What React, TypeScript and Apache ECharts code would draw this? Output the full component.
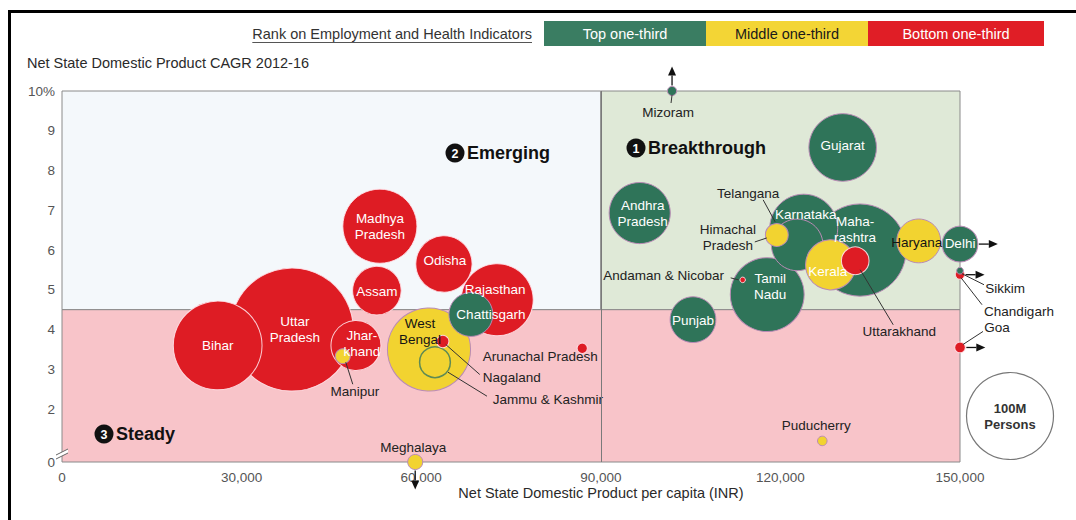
import React, { useEffect, useRef } from "react";
import * as echarts from "echarts";

// ---------------- DATA ----------------
const states = [
  "Uttar Pradesh", "Maharashtra", "Bihar", "West Bengal", "Madhya Pradesh", "Tamil Nadu",
  "Rajasthan", "Karnataka", "Gujarat", "Andhra Pradesh", "Odisha", "Telangana", "Kerala",
  "Jharkhand", "Assam", "Punjab", "Chattisgarh", "Haryana", "Delhi", "Jammu & Kashmir",
  "Uttarakhand", "Himachal Pradesh", "Meghalaya", "Manipur", "Nagaland", "Goa",
  "Arunachal Pradesh", "Puducherry", "Mizoram", "Chandigarh", "Sikkim", "Andaman & Nicobar",
];
// Net State Domestic Product per capita (INR)
const nsdpPerCapita = [
  38400, 133300, 26000, 61300, 53100, 117800,
  72700, 123900, 130400, 96500, 63800, 122800, 128400,
  49100, 52600, 105400, 68300, 143100, 150000, 62300,
  132500, 119400, 59000, 46900, 63600, 150000,
  86900, 127000, 101900, 150000, 150000, 113700,
];
// NSDP CAGR 2012-16 (%)
const cagr = [
  4.0, 6.0, 3.6, 3.5, 6.6, 4.88,
  4.75, 6.55, 8.58, 6.93, 5.65, 6.13, 5.63,
  3.6, 4.98, 4.25, 4.38, 6.23, 6.15, 3.18,
  5.73, 6.38, 0, 3.33, 3.7, 3.55,
  3.53, 1.2, 10, 5.38, 5.48, 5.25,
];
// Population (millions)
const populationM = [
  199.8, 112.4, 104.1, 91.3, 72.6, 72.1,
  68.5, 61.1, 60.4, 49.4, 41.9, 35.2, 33.4,
  33.0, 31.2, 27.7, 25.5, 25.4, 16.8, 12.5,
  10.1, 6.9, 3.0, 2.9, 2.0, 1.5,
  1.4, 1.2, 1.1, 1.1, 0.6, 0.4,
];
// Rank on Employment and Health Indicators
const rankGroup = [
  "Bottom", "Top", "Bottom", "Middle", "Bottom", "Top",
  "Bottom", "Top", "Top", "Top", "Bottom", "Top", "Middle",
  "Bottom", "Bottom", "Top", "Top", "Middle", "Top", "Middle",
  "Bottom", "Middle", "Middle", "Middle", "Bottom", "Bottom",
  "Bottom", "Middle", "Top", "Bottom", "Top", "Bottom",
];
// Value beyond the axis range (arrow direction)
const offScale = [
  "", "", "", "", "", "",
  "", "", "", "", "", "", "",
  "", "", "", "", "", "right", "",
  "", "", "down", "", "", "right",
  "", "", "up", "right", "", "",
];

const rankGroups = ["Top", "Middle", "Bottom"];
const rankLegendLabels = ["Top one-third", "Middle one-third", "Bottom one-third"];
const xTickValues = [0, 30000, 60000, 90000, 120000, 150000];
const yTickValues = [0, 2, 3, 4, 5, 6, 7, 8, 9, 10];
const yTickLabels = ["0", "2", "3", "4", "5", "6", "7", "8", "9", "10%"];
const xSplit = 90000;
const ySplit = 4.5;
const refPopulationM = 100;

// ---------------- STYLE ----------------
const FONT = '"Liberation Sans", Arial, Helvetica, sans-serif';
const Y_MIN = 0.67;
const R100 = 43.5; // radius (px) of a 100M bubble
const groupColor: Record<string, string> = { Top: "#2f7459", Middle: "#f2d330", Bottom: "#de1c24" };
const legendColor: Record<string, string> = { Top: "#3a7d62", Middle: "#f3d535", Bottom: "#e01e26" };
const legendText: Record<string, string> = { Top: "#ffffff", Middle: "#1a1a1a", Bottom: "#ffffff" };

type LC = { dx: number; dy: number; out?: boolean; dark?: boolean; light?: boolean; line?: number[] };
const labelCfg: Record<string, LC> = {
  "Uttar Pradesh": { dx: 3, dy: 0 },
  Maharashtra: { dx: -5, dy: -21 },
  Bihar: { dx: 0, dy: 0 },
  "West Bengal": { dx: -9, dy: -18, dark: true },
  "Madhya Pradesh": { dx: 0, dy: 0 },
  "Tamil Nadu": { dx: 3, dy: -8 },
  Rajasthan: { dx: -2, dy: -10 },
  Karnataka: { dx: 2, dy: -14 },
  Gujarat: { dx: 0, dy: -2 },
  "Andhra Pradesh": { dx: 3, dy: 0 },
  Odisha: { dx: 1, dy: -3 },
  Telangana: { dx: -49, dy: -51, out: true, line: [-34, -45, -22, -23] },
  Kerala: { dx: -3, dy: 7, light: true },
  Jharkhand: { dx: 6, dy: -2 },
  Assam: { dx: 0, dy: 1 },
  Punjab: { dx: 0, dy: 1 },
  Chattisgarh: { dx: 20, dy: 0 },
  Haryana: { dx: -2, dy: 2, dark: true },
  Delhi: { dx: 0, dy: -1 },
  "Jammu & Kashmir": { dx: 113, dy: 37, out: true, line: [13, 10, 52, 34] },
  Uttarakhand: { dx: 44, dy: 71, out: true, line: [5, 9, 38, 64] },
  "Himachal Pradesh": { dx: -49, dy: 3, out: true, line: [-22, 7, -10, 3] },
  Meghalaya: { dx: -2, dy: -15, out: true },
  Manipur: { dx: 12, dy: 35, out: true, line: [3, 6, 10, 28] },
  Nagaland: { dx: 69, dy: 36, out: true, line: [3, 3, 37, 33] },
  Goa: { dx: 37, dy: -20, out: true, line: [3, -3, 23, -16] },
  "Arunachal Pradesh": { dx: -42, dy: 8, out: true },
  Puducherry: { dx: -6, dy: -15, out: true },
  Mizoram: { dx: -4, dy: 21, out: true, line: [0, 4, -1, 12] },
  Chandigarh: { dx: 59, dy: 37, out: true, line: [1, 3, 22, 30] },
  Sikkim: { dx: 45, dy: 18, out: true, line: [2, 3, 24, 14] },
  "Andaman & Nicobar": { dx: -79, dy: -4, out: true, line: [-12, -2, -4, 0] },
};
const labelText: Record<string, string> = {
  "Uttar Pradesh": "Uttar\nPradesh",
  Maharashtra: "Maha-\nrashtra",
  "West Bengal": "West\nBengal",
  "Madhya Pradesh": "Madhya\nPradesh",
  "Tamil Nadu": "Tamil\nNadu",
  "Andhra Pradesh": "Andhra\nPradesh",
  Jharkhand: "Jhar-\nkhand",
  "Himachal Pradesh": "Himachal\nPradesh",
};

function textWidth(text: string, font: string) {
  const c = document.createElement("canvas").getContext("2d");
  if (!c) return text.length * 7;
  c.font = font;
  return c.measureText(text).width;
}

export default function App() {
  const ref = useRef<HTMLDivElement>(null);

  useEffect(() => {
    const el = ref.current;
    if (!el) return;
    const chart = echarts.init(el, undefined, { renderer: "svg" });
    const radius = (p: number) => R100 * Math.sqrt(p / refPopulationM);

    const items = states.map((name, i) => ({
      name,
      x: nsdpPerCapita[i],
      y: Math.max(cagr[i], Y_MIN),
      pop: populationM[i],
      group: rankGroup[i],
      off: offScale[i],
    }));

    const data = items.map((it) => {
      const cfg = labelCfg[it.name] || { dx: 0, dy: 0 };
      const color = groupColor[it.group];
      let lc = "#ffffff";
      if (cfg.out) lc = "#222222";
      else if (cfg.dark) lc = "#141414";
      else if (it.group === "Middle" && !cfg.light) lc = "#141414";
      const isJK = it.name === "Jammu & Kashmir";
      return {
        name: it.name,
        value: [it.x, it.y, it.pop],
        symbolSize: radius(it.pop) * 2,
        itemStyle: {
          color,
          opacity: 1,
          borderColor: isJK ? "#5e8a55" : it.group === "Bottom" ? "rgba(255,225,232,0.9)" : "#b98bb5",
          borderWidth: isJK ? 1.5 : 1,
        },
        label: {
          show: true,
          position: "inside",
          formatter: labelText[it.name] || it.name,
          offset: [cfg.dx, cfg.dy],
          color: lc,
          fontFamily: FONT,
          fontSize: 13.5,
          lineHeight: 16,
        },
      };
    });

    const option: any = {
      animation: false,
      grid: { left: 62, right: 116, top: 91, bottom: 58, containLabel: false },
      xAxis: {
        type: "value",
        min: 0,
        max: 150000,
        interval: 30000,
        axisLine: { show: false },
        axisTick: { show: false },
        splitLine: { show: false },
        axisLabel: {
          color: "#555",
          fontFamily: FONT,
          fontSize: 13.5,
          margin: 8,
          customValues: xTickValues,
          formatter: (v: number) => v.toLocaleString("en-US"),
        },
      },
      yAxis: {
        type: "value",
        min: Y_MIN,
        max: 10,
        axisLine: { show: false },
        axisTick: { show: false },
        splitLine: { show: false },
        axisLabel: {
          color: "#555",
          fontFamily: FONT,
          fontSize: 13.5,
          margin: 7,
          customValues: yTickValues.map((v) => Math.max(v, Y_MIN)),
          formatter: (v: number) => {
            const idx = yTickValues.findIndex((t) => Math.abs(Math.max(t, Y_MIN) - v) < 1e-6);
            return idx >= 0 ? yTickLabels[idx] : "";
          },
        },
      },
      series: [
        {
          type: "line",
          data: [],
          z: 1,
          silent: true,
          markArea: {
            silent: true,
            label: { show: false },
            data: [
              [
                { xAxis: 0, yAxis: ySplit, itemStyle: { color: "#f4f8fb", borderColor: "#8a8a8a", borderWidth: 1 } },
                { xAxis: xSplit, yAxis: 10 },
              ],
              [
                { xAxis: xSplit, yAxis: ySplit, itemStyle: { color: "#dfe9d7", borderColor: "#8a8a8a", borderWidth: 1 } },
                { xAxis: 150000, yAxis: 10 },
              ],
              [
                { xAxis: 0, yAxis: Y_MIN, itemStyle: { color: "#f8c4c9", borderColor: "#8a8a8a", borderWidth: 1 } },
                { xAxis: 150000, yAxis: ySplit },
              ],
            ],
          },
          markLine: {
            silent: true,
            symbol: "none",
            label: { show: false },
            lineStyle: { color: "#7a7a7a", width: 1, type: "solid" },
            data: [{ xAxis: xSplit }],
          },
        },
        {
          type: "scatter",
          z: 3,
          itemStyle: { opacity: 1 },
          data,
        },
      ],
    };

    chart.setOption(option);

    const gfx: any[] = [];
    // outer frame
    gfx.push({
      type: "rect",
      z: 20,
      silent: true,
      shape: { x: 9.5, y: 11.5, width: 1200, height: 700 },
      style: { fill: "none", stroke: "#000", lineWidth: 3 },
    });
    // legend header
    const headerFont = `14.5px ${FONT}`;
    const headerText = "Rank on Employment and Health Indicators";
    const hw = textWidth(headerText, headerFont);
    const hx = 532 - hw;
    gfx.push({
      type: "text",
      z: 20,
      style: { text: headerText, x: hx, y: 34, font: headerFont, fill: "#333", verticalAlign: "middle", align: "left" },
    });
    gfx.push({
      type: "line",
      z: 20,
      shape: { x1: hx, y1: 42.5, x2: hx + hw, y2: 42.5 },
      style: { stroke: "#555", lineWidth: 1 },
    });
    const boxX = [544, 706, 868, 1044];
    rankGroups.forEach((g, i) => {
      gfx.push({
        type: "rect",
        z: 20,
        shape: { x: boxX[i], y: 21, width: boxX[i + 1] - boxX[i], height: 25 },
        style: { fill: legendColor[g] },
      });
      gfx.push({
        type: "text",
        z: 21,
        style: {
          text: rankLegendLabels[i],
          x: (boxX[i] + boxX[i + 1]) / 2,
          y: 33.5,
          font: `14.5px ${FONT}`,
          fill: legendText[g],
          align: "center",
          verticalAlign: "middle",
        },
      });
    });
    // axis titles
    gfx.push({
      type: "text",
      z: 20,
      style: { text: "Net State Domestic Product CAGR 2012-16", x: 27, y: 63, font: `14.5px ${FONT}`, fill: "#2a2a2a", align: "left", verticalAlign: "middle" },
    });
    gfx.push({
      type: "text",
      z: 20,
      style: { text: "Net State Domestic Product per capita (INR)", x: 601, y: 493, font: `14.5px ${FONT}`, fill: "#2a2a2a", align: "center", verticalAlign: "middle" },
    });
    // quadrant titles
    const quad = [
      { n: "2", t: "Emerging", cx: 455, cy: 153 },
      { n: "1", t: "Breakthrough", cx: 636, cy: 148 },
      { n: "3", t: "Steady", cx: 104, cy: 434 },
    ];
    quad.forEach((q) => {
      gfx.push({ type: "circle", z: 20, shape: { cx: q.cx, cy: q.cy, r: 9.5 }, style: { fill: "#111" } });
      gfx.push({
        type: "text",
        z: 21,
        style: { text: q.n, x: q.cx, y: q.cy + 0.5, font: `bold 12.5px ${FONT}`, fill: "#fff", align: "center", verticalAlign: "middle" },
      });
      gfx.push({
        type: "text",
        z: 21,
        style: { text: q.t, x: q.cx + 12, y: q.cy, font: `bold 18px ${FONT}`, fill: "#111", align: "left", verticalAlign: "middle" },
      });
    });
    // axis break marks
    gfx.push({
      type: "polygon",
      z: 20,
      shape: { points: [[56, 455], [68, 449], [68, 453], [56, 459]] },
      style: { fill: "#fff" },
    });
    gfx.push({ type: "line", z: 21, shape: { x1: 56, y1: 455, x2: 68, y2: 449 }, style: { stroke: "#666", lineWidth: 1 } });
    gfx.push({ type: "line", z: 21, shape: { x1: 56, y1: 459, x2: 68, y2: 453 }, style: { stroke: "#666", lineWidth: 1 } });
    // size legend
    const rRef = radius(refPopulationM);
    gfx.push({
      type: "circle",
      z: 20,
      shape: { cx: 1010, cy: 416, r: rRef },
      style: { fill: "#fff", stroke: "#777", lineWidth: 1.2 },
    });
    gfx.push({
      type: "text",
      z: 21,
      style: { text: "100M\nPersons", x: 1010, y: 416, font: `bold 13px ${FONT}`, lineHeight: 16, fill: "#333", align: "center", verticalAlign: "middle" },
    });

    // leader lines and arrows from data positions
    const drawnArrows: number[][] = [];
    items.forEach((it) => {
      const p = chart.convertToPixel({ gridIndex: 0 }, [it.x, it.y]) as number[];
      if (!p) return;
      const [px, py] = p;
      const r = radius(it.pop);
      const cfg = labelCfg[it.name];
      if (cfg && cfg.line) {
        const [a, b, c, d] = cfg.line;
        gfx.push({
          type: "line",
          z: 15,
          shape: { x1: px + a, y1: py + b, x2: px + c, y2: py + d },
          style: { stroke: "#333", lineWidth: 1 },
        });
      }
      if (it.off) {
        if (drawnArrows.some(([ax, ay]) => Math.abs(ax - px) < 3 && Math.abs(ay - py) < 6)) return;
        drawnArrows.push([px, py]);
        const dir = it.off === "right" ? [1, 0] : it.off === "up" ? [0, -1] : [0, 1];
        const perp = [-dir[1], dir[0]];
        const s = r + 1;
        const b = r + 11;
        const tip = r + 20;
        gfx.push({
          type: "line",
          z: 15,
          shape: { x1: px + dir[0] * s, y1: py + dir[1] * s, x2: px + dir[0] * b, y2: py + dir[1] * b },
          style: { stroke: "#111", lineWidth: 1.3 },
        });
        gfx.push({
          type: "polygon",
          z: 15,
          shape: {
            points: [
              [px + dir[0] * tip, py + dir[1] * tip],
              [px + dir[0] * b + perp[0] * 4, py + dir[1] * b + perp[1] * 4],
              [px + dir[0] * b - perp[0] * 4, py + dir[1] * b - perp[1] * 4],
            ],
          },
          style: { fill: "#111" },
        });
      }
    });

    chart.setOption({ graphic: gfx });

    return () => {
      chart.dispose();
    };
  }, []);

  return (
    <div
      ref={ref}
      style={{ position: "absolute", left: 0, top: 0, width: 1076, height: 520, background: "#ffffff" }}
    />
  );
}
